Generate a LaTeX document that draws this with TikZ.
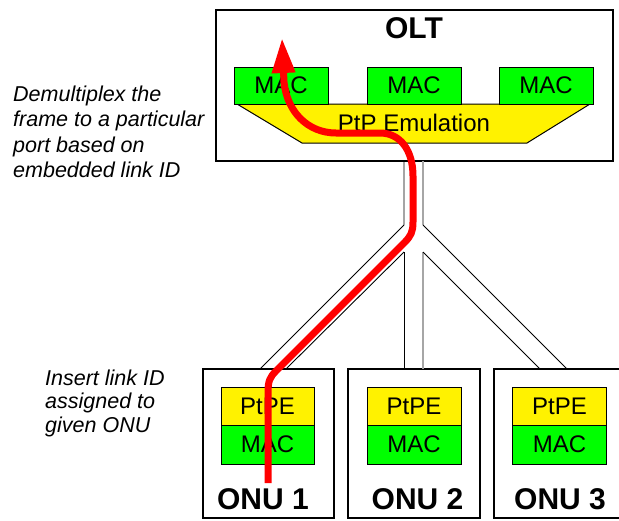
\documentclass[tikz,border=0pt]{standalone}
\usepackage{fontspec}
\setmainfont{Liberation Sans}
\usetikzlibrary{arrows.meta}
\begin{document}
\begin{tikzpicture}[x=1pt,y=-1pt,
  framebox/.style={draw=black, line width=1.3pt, fill=white, inner sep=0pt},
  macbox/.style={draw=black, line width=1pt, fill=green, inner sep=0pt, font=\fontsize{24}{28}\selectfont},
  pebox/.style={draw=black, line width=1pt, fill=yellow, inner sep=0pt, font=\fontsize{24}{28}\selectfont},
  biglabel/.style={font=\bfseries\fontsize{30}{34}\selectfont, inner sep=0pt},
  note/.style={font=\itshape\fontsize{21.5}{25.5}\selectfont, align=left, inner sep=0pt, anchor=north west},
  fiber/.style={draw=black, line width=0.9pt},
  fibergray/.style={draw=black!35, line width=1.6pt},
  redarrow/.style={draw=red, line width=7pt, -{Triangle[length=35pt,width=22pt]}}
]
\useasboundingbox (0,0) rectangle (619,520);
\clip (0,0) rectangle (619,520);
\fill[white] (0,0) rectangle (619,520);

% OLT
\node[framebox, minimum width=397pt, minimum height=151pt] (olt) at (414.5,85.5) {};
\node[biglabel] (oltlabel) at (414,28.5) {OLT};
\draw[line width=1pt, fill=yellow] (237,104) -- (590,104) -- (527,143) -- (302,143) -- cycle;
\node[inner sep=0pt, font=\fontsize{24}{28}\selectfont] (ptp) at (414,123) {PtP Emulation};
\node[macbox, minimum width=94pt, minimum height=37pt] (mac1) at (281,85.5) {MAC};
\node[macbox, minimum width=94pt, minimum height=37pt] (mac2) at (414,85.5) {MAC};
\node[macbox, minimum width=94pt, minimum height=37pt] (mac3) at (546,85.5) {MAC};

% ONUs
\node[framebox, minimum width=131pt, minimum height=149pt] (onu1) at (268.5,443.5) {};
\node[framebox, minimum width=132pt, minimum height=149pt] (onu2) at (414,443.5) {};
\node[framebox, minimum width=131pt, minimum height=149pt] (onu3) at (559.5,443.5) {};
\node[pebox, minimum width=93pt, minimum height=38pt] (pe1) at (267.5,406) {PtPE};
\node[macbox, minimum width=93pt, minimum height=39pt] (om1) at (267.5,444.5) {MAC};
\node[pebox, minimum width=94pt, minimum height=38pt] (pe2) at (414,406) {PtPE};
\node[macbox, minimum width=94pt, minimum height=39pt] (om2) at (414,444.5) {MAC};
\node[pebox, minimum width=94pt, minimum height=38pt] (pe3) at (559.5,406) {PtPE};
\node[macbox, minimum width=94pt, minimum height=39pt] (om3) at (559.5,444.5) {MAC};
\node[biglabel] (onu1label) at (263,499) {ONU 1};
\node[biglabel] (onu2label) at (417.5,499) {ONU 2};
\node[biglabel] (onu3label) at (560,499) {ONU 3};

% fiber tree
\coordinate (tl) at (404,161);
\coordinate (tr) at (423,161);
\coordinate (sl) at (404,225);
\coordinate (sr) at (423,225);
\coordinate (il) at (404,252);
\coordinate (ir) at (423,252);
\coordinate (b1o) at (260,369);
\coordinate (b1i) at (286,369);
\coordinate (b2l) at (404,369);
\coordinate (b2r) at (423,369);
\coordinate (b3i) at (540,369);
\coordinate (b3o) at (567,369);
\draw[fiber] (tl) -- (sl) -- (b1o);
\draw[fiber] (il) -- (b1i);
\draw[fiber] (il) -- (b2l);
\draw[fibergray] (tr) -- (sr);
\draw[fibergray] (ir) -- (b2r);
\draw[fiber] (sr) -- (b3o);
\draw[fiber] (ir) -- (b3i);

% notes
\node[note] (note1) at (13,85.5) {Demultiplex the\\frame to a particular\\port based on\\embedded link ID};
\node[note, font=\itshape\fontsize{21.5}{23.5}\selectfont] (note2) at (45,369.5) {Insert link ID\\assigned to\\given ONU};

% red path
\coordinate (rs) at (268,483);
\coordinate (re) at (282,38);
\draw[redarrow] (rs) -- (268,392) .. controls (268,381) and (270,377) .. (276,371)
  -- (404,243) .. controls (411,236) and (413,232) .. (413,222)
  -- (413,176) .. controls (413,150) and (400,133) .. (380,133)
  -- (336,133) .. controls (308,133) and (287,112) .. (284,82) -- (re);
\end{tikzpicture}
\end{document}
